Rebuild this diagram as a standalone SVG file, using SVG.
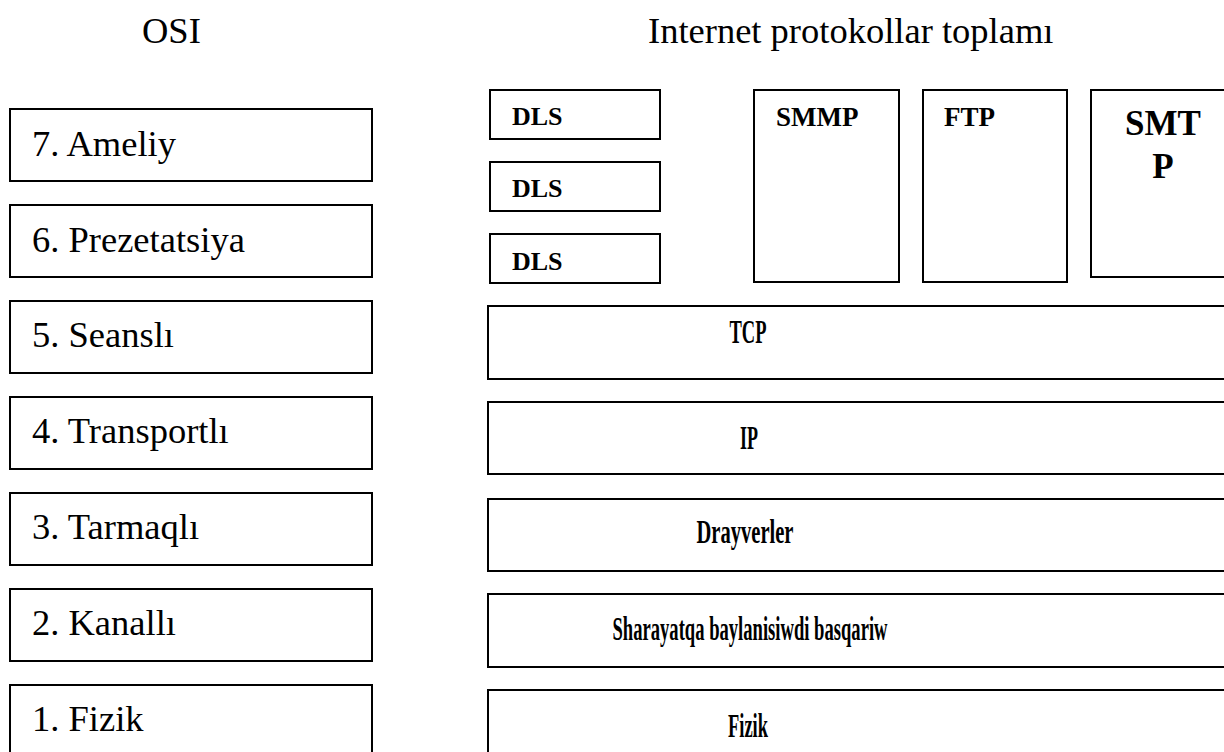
<svg xmlns="http://www.w3.org/2000/svg" width="1224" height="752" viewBox="0 0 1224 752">
  <style>
    .box { fill: #ffffff; stroke: #000000; stroke-width: 2; }
    .head { font-family: "Liberation Serif", "Times New Roman", serif; font-size: 36.5px; fill: #000; }
    .osi { font-family: "Liberation Serif", "Times New Roman", serif; font-size: 36.5px; fill: #000; }
    .small { font-family: "Liberation Serif", "Times New Roman", serif; font-weight: bold; font-size: 26px; fill: #000; }
    .app { font-family: "Liberation Serif", "Times New Roman", serif; font-weight: bold; font-size: 27px; fill: #000; }
    .big { font-family: "Liberation Serif", "Times New Roman", serif; font-weight: bold; font-size: 35px; fill: #000; }
    .layer { font-family: "Liberation Serif", "Times New Roman", serif; font-weight: bold; font-size: 34px; fill: #000; text-anchor: middle; }
  </style>
  <rect width="1224" height="752" fill="#ffffff"/>

  <!-- column headings -->
  <text class="head" x="142" y="43">OSI</text>
  <text class="head" x="648" y="43">Internet protokollar toplamı</text>

  <!-- OSI reference model layers -->
  <g id="osi-7"><rect class="box" x="10" y="109" width="362" height="72"/><text class="osi" x="32" y="156">7. Ameliy</text></g>
  <g id="osi-6"><rect class="box" x="10" y="205" width="362" height="72"/><text class="osi" x="32" y="252">6. Prezetatsiya</text></g>
  <g id="osi-5"><rect class="box" x="10" y="301" width="362" height="72"/><text class="osi" x="32" y="347">5. Seanslı</text></g>
  <g id="osi-4"><rect class="box" x="10" y="397" width="362" height="72"/><text class="osi" x="32" y="443">4. Transportlı</text></g>
  <g id="osi-3"><rect class="box" x="10" y="493" width="362" height="72"/><text class="osi" x="32" y="539">3. Tarmaqlı</text></g>
  <g id="osi-2"><rect class="box" x="10" y="589" width="362" height="72"/><text class="osi" x="32" y="635">2. Kanallı</text></g>
  <g id="osi-1"><rect class="box" x="10" y="685" width="362" height="80"/><text class="osi" x="32" y="731">1. Fizik</text></g>

  <!-- Internet protocol suite: application protocols -->
  <g id="dls-1"><rect class="box" x="490" y="90" width="170" height="49"/><text class="small" x="512" y="125">DLS</text></g>
  <g id="dls-2"><rect class="box" x="490" y="162" width="170" height="49"/><text class="small" x="512" y="197">DLS</text></g>
  <g id="dls-3"><rect class="box" x="490" y="234" width="170" height="49"/><text class="small" x="512" y="270">DLS</text></g>
  <g id="smmp"><rect class="box" x="754" y="90" width="145" height="192"/><text class="app" x="776" y="126">SMMP</text></g>
  <g id="ftp"><rect class="box" x="923" y="90" width="144" height="192"/><text class="app" x="944" y="126">FTP</text></g>
  <g id="smtp"><rect class="box" x="1091" y="90" width="150" height="187"/>
    <text class="big" x="1163" y="135" text-anchor="middle">SMT</text>
    <text class="big" x="1163" y="178" text-anchor="middle">P</text></g>

  <!-- Internet protocol suite: lower layers -->
  <g id="tcp"><rect class="box" x="488" y="306" width="760" height="73"/><text class="layer" x="748" y="343" textLength="37" lengthAdjust="spacingAndGlyphs">TCP</text></g>
  <g id="ip"><rect class="box" x="488" y="402" width="760" height="72"/><text class="layer" x="749" y="449" textLength="18" lengthAdjust="spacingAndGlyphs">IP</text></g>
  <g id="drayverler"><rect class="box" x="488" y="499" width="760" height="72"/><text class="layer" x="745" y="543" textLength="97" lengthAdjust="spacingAndGlyphs">Drayverler</text></g>
  <g id="sharayat"><rect class="box" x="488" y="594" width="760" height="73"/><text class="layer" x="750" y="640" textLength="275" lengthAdjust="spacingAndGlyphs">Sharayatqa baylanisiwdi basqariw</text></g>
  <g id="fizik"><rect class="box" x="488" y="690" width="760" height="80"/><text class="layer" x="748" y="737" textLength="40" lengthAdjust="spacingAndGlyphs">Fizik</text></g>

  <!-- no connectors between the stacks -->
  <g id="connectors"/>
</svg>
